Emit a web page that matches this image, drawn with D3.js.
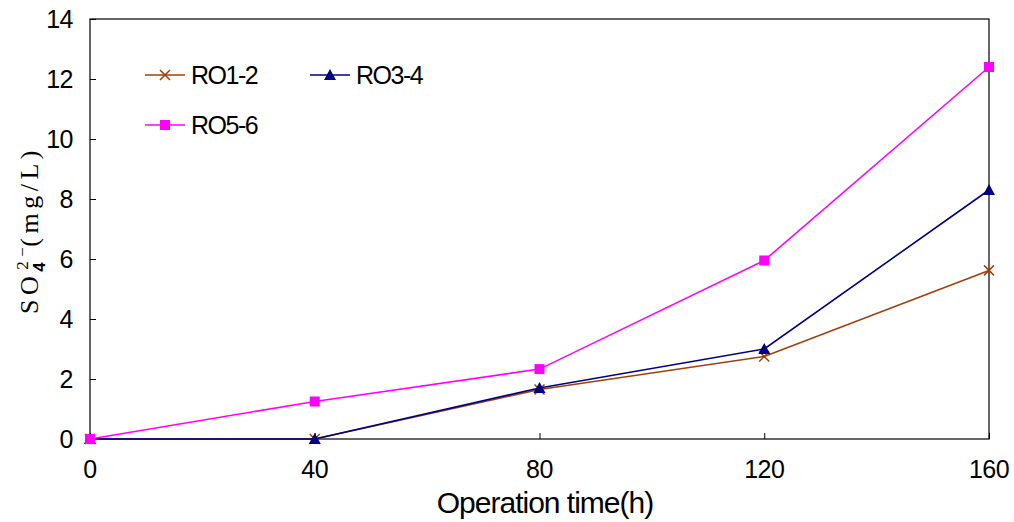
<!DOCTYPE html>
<html>
<head>
<meta charset="utf-8">
<script src="https://cdn.jsdelivr.net/npm/d3@7"></script>
<style>
body { margin: 0; background: #fff; }
</style>
</head>
<body>
<div id="chart"></div>
<script>
// data
var hours = [0, 40, 80, 120, 160];
var ro12 = [0, 0, 1.65, 2.75, 5.62];
var ro34 = [0, 0, 1.7, 3.0, 8.3];
var ro56 = [0, 1.25, 2.33, 5.95, 12.4];
var yTicks = [0, 2, 4, 6, 8, 10, 12, 14];

(function() {
	var width = 1014, height = 522;
	var mLeft = 90, mRight = 989, mTop = 19, mBottom = 439;

	var svg = d3.select("#chart").append("svg")
		.attr("width", width)
		.attr("height", height);

	var x = d3.scaleLinear().domain([0, 160]).range([mLeft, mRight]);
	var y = d3.scaleLinear().domain([0, 14]).range([mBottom, mTop]);

	// frame
	svg.append("rect")
		.attr("x", mLeft).attr("y", mTop)
		.attr("width", mRight - mLeft).attr("height", mBottom - mTop)
		.attr("fill", "none").attr("stroke", "#000").attr("stroke-width", 1.2);

	// y axis, ticks pointing inward
	var yAxis = svg.append("g")
		.attr("transform", "translate(" + mLeft + ",0)")
		.call(d3.axisRight(y).tickValues(yTicks).tickSize(6).tickFormat(""));
	yAxis.select(".domain").remove();
	yAxis.selectAll("line").attr("stroke", "#000");
	svg.selectAll(".ylab").data(yTicks).enter().append("text")
		.attr("x", mLeft - 17).attr("y", function(d) { return y(d) + 9; })
		.attr("text-anchor", "end")
		.style("font", "25px 'Liberation Sans', Arial, sans-serif")
		.style("letter-spacing", "-0.5px")
		.text(function(d) { return d; });

	// x axis, ticks pointing up
	var xAxis = svg.append("g")
		.attr("transform", "translate(0," + mBottom + ")")
		.call(d3.axisTop(x).tickValues(hours).tickSize(6).tickFormat(""));
	xAxis.select(".domain").remove();
	xAxis.selectAll("line").attr("stroke", "#000");
	svg.selectAll(".xlab").data(hours).enter().append("text")
		.attr("x", function(d) { return x(d); }).attr("y", mBottom + 39)
		.attr("text-anchor", "middle")
		.style("font", "25px 'Liberation Sans', Arial, sans-serif")
		.style("letter-spacing", "-0.5px")
		.text(function(d) { return d; });

	svg.append("text")
		.attr("x", 545).attr("y", 513)
		.attr("text-anchor", "middle")
		.style("font", "30px 'Liberation Sans', Arial, sans-serif")
		.style("letter-spacing", "-1px")
		.text("Operation time(h)");

	// y label
	var ylab = svg.append("text")
		.attr("transform", "translate(38,230) rotate(-90)")
		.attr("text-anchor", "middle")
		.style("font", "26px 'Liberation Serif', 'Times New Roman', serif")
		.style("letter-spacing", "4.5px");
	ylab.append("tspan").text("SO");
	ylab.append("tspan").attr("dy", 7).style("font", "bold 17px 'Liberation Sans', Arial, sans-serif").text("4");
	ylab.append("tspan").attr("dx", -12).attr("dy", -17).style("font-size", "17px").text("2\u2212");
	ylab.append("tspan").attr("dx", -4).attr("dy", 10).text("(mg/L)");

	var series = [
		{ name: "RO1-2", values: ro12, color: "#A0400A", marker: "cross" },
		{ name: "RO3-4", values: ro34, color: "#000080", marker: "triangle" },
		{ name: "RO5-6", values: ro56, color: "#FF00FF", marker: "square" }
	];

	var line = d3.line()
		.x(function(d, i) { return x(hours[i]); })
		.y(function(d) { return y(d); });

	function drawMarker(g, type, color) {
		if (type === "cross") {
			g.append("path").attr("d", "M-5,-5L5,5M-5,5L5,-5")
				.attr("stroke", color).attr("stroke-width", 1.5).attr("fill", "none");
		} else if (type === "triangle") {
			g.append("path").attr("d", "M0,-6L6,5L-6,5Z").attr("fill", color);
		} else {
			g.append("rect").attr("x", -5).attr("y", -5).attr("width", 10).attr("height", 10).attr("fill", color);
		}
	}

	series.forEach(function(s) {
		svg.append("path")
			.datum(s.values)
			.attr("d", line)
			.attr("fill", "none")
			.attr("stroke", s.color)
			.attr("stroke-width", 1.6);
		s.values.forEach(function(v, i) {
			var g = svg.append("g").attr("transform", "translate(" + x(hours[i]) + "," + y(v) + ")");
			drawMarker(g, s.marker, s.color);
		});
	});

	// legend
	var legendPos = [[145, 75], [310, 75], [145, 125]];
	series.forEach(function(s, i) {
		var lx = legendPos[i][0], ly = legendPos[i][1];
		svg.append("line")
			.attr("x1", lx).attr("x2", lx + 40).attr("y1", ly).attr("y2", ly)
			.attr("stroke", s.color).attr("stroke-width", 1.6);
		var g = svg.append("g").attr("transform", "translate(" + (lx + 20) + "," + ly + ")");
		drawMarker(g, s.marker, s.color);
		svg.append("text")
			.attr("x", lx + 46).attr("y", ly + 9)
			.style("font", "25px 'Liberation Sans', Arial, sans-serif")
			.style("letter-spacing", "-1.5px")
			.text(s.name);
	});
})();
</script>
</body>
</html>
